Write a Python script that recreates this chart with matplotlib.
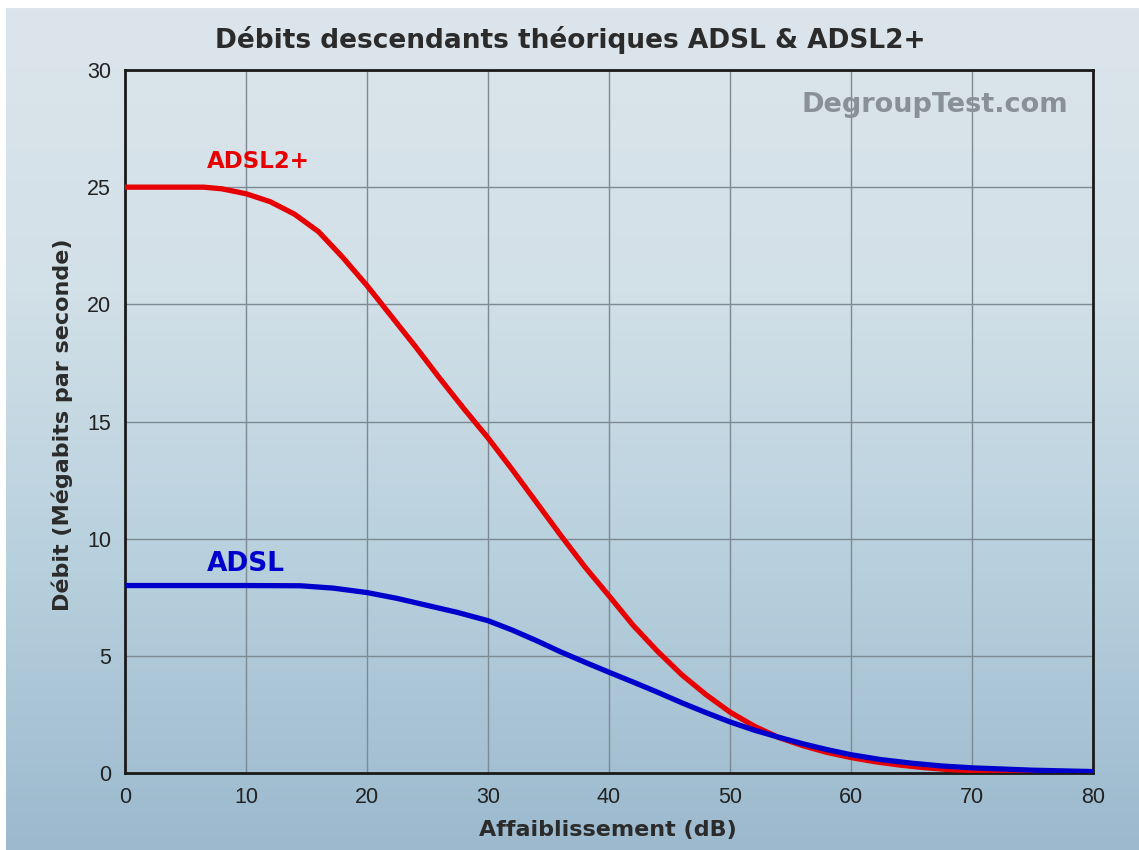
"""
Débits ADSL / ADSL2+ en fonction de l'affaiblissement
"""
import matplotlib
matplotlib.use('Agg')

import matplotlib.pyplot as plt
import numpy as np
from matplotlib.colors import LinearSegmentedColormap

# ========== données ==========
adsl2_x = [0, 4, 6.5, 8, 10, 12, 14, 16, 18, 20, 22, 24, 26, 28, 30, 32, 34, 36, 38, 40,
           42, 44, 46, 48, 50, 52, 54, 56, 58, 60, 62, 64, 66, 68, 70, 72, 76, 80]
adsl2_y = [25, 25, 25, 24.93, 24.72, 24.38, 23.85, 23.1, 22.0, 20.8, 19.5, 18.2, 16.85, 15.55,
           14.3, 12.95, 11.55, 10.15, 8.8, 7.56, 6.3, 5.2, 4.2, 3.35, 2.6, 2.0, 1.52, 1.17,
           0.88, 0.66, 0.48, 0.34, 0.23, 0.15, 0.1, 0.06, 0.02, 0.0]

adsl_x = [0, 10, 14.5, 17.2, 20, 22.5, 25, 27.5, 30, 32, 34, 36, 38, 40, 42, 44, 46, 48,
          50, 52, 54, 56, 58, 60, 62.5, 65, 67.5, 70, 75, 80]
adsl_y = [8, 8, 7.99, 7.89, 7.7, 7.45, 7.15, 6.85, 6.5, 6.1, 5.65, 5.17, 4.73, 4.3, 3.88, 3.45,
          3.0, 2.58, 2.18, 1.83, 1.53, 1.25, 1.0, 0.78, 0.57, 0.42, 0.3, 0.22, 0.12, 0.06]

x_ticks = [0, 10, 20, 30, 40, 50, 60, 70, 80]
y_ticks = [0, 5, 10, 15, 20, 25, 30]

tick_font = ['Liberation Sans', 'DejaVu Sans']
bold_font = ['DejaVu Sans']

fig = plt.figure(figsize=(11.39, 8.5), dpi=100, facecolor='white')

# fond dégradé
bg = fig.add_axes([6 / 1139, 0, 1 - 6 / 1139, 1 - 8 / 850])
cmap = LinearSegmentedColormap.from_list('bg', ['#dce5eb', '#d2e0e8', '#b7d0dd', '#9cb9ce'])
grad = np.linspace(0, 1, 256).reshape(-1, 1)
bg.imshow(grad, aspect='auto', cmap=cmap, extent=[0, 1, 0, 1])
bg.axis('off')

ax = fig.add_axes([125 / 1139, 1 - 773 / 850, (1093 - 125) / 1139, (773 - 70) / 850])
ax.set_facecolor('none')

ax.plot(adsl2_x, adsl2_y, color='#e60000', lw=3.8, solid_capstyle='butt',
        solid_joinstyle='round', zorder=3)
ax.plot(adsl_x, adsl_y, color='#0000cc', lw=3.8, solid_capstyle='butt',
        solid_joinstyle='round', zorder=4)

ax.set_xlim(0, 80)
ax.set_ylim(0, 30)
ax.set_xticks(x_ticks)
ax.set_yticks(y_ticks)
ax.set_xticklabels([str(v) for v in x_ticks], family=tick_font, fontsize=15.5, color='#222222')
ax.set_yticklabels([str(v) for v in y_ticks], family=tick_font, fontsize=15.5, color='#222222')
ax.tick_params(length=0, pad=10)
ax.grid(True, color='#7d8a93', lw=1)
ax.set_axisbelow(True)
for sp in ax.spines.values():
    sp.set_color('#1a1a1a')
    sp.set_linewidth(2)

ax.text(6.8, 26.1, 'ADSL2+', color='#e60000', fontsize=16.5, fontweight='bold',
        family=bold_font, va='center', ha='left')
ax.text(6.8, 8.9, 'ADSL', color='#0000cc', fontsize=19, fontweight='bold',
        family=bold_font, va='center', ha='left')
ax.text(0.974, 0.95, 'DegroupTest.com', transform=ax.transAxes, color='#8a9196',
        fontsize=19.5, fontweight='bold', family=bold_font, ha='right', va='center')

fig.text(570 / 1139, 1 - 40 / 850, 'Débits descendants théoriques ADSL & ADSL2+',
         fontsize=19, fontweight='bold', family=bold_font, color='#2b2b2b',
         ha='center', va='center')
fig.text(608 / 1139, 1 - 830 / 850, 'Affaiblissement (dB)', fontsize=16,
         fontweight='bold', family=bold_font, color='#2b2b2b', ha='center', va='center')
fig.text(62 / 1139, 1 - 425 / 850, 'Débit (Mégabits par seconde)', fontsize=16,
         fontweight='bold', family=bold_font, color='#2b2b2b', ha='center', va='center',
         rotation=90)

plt.savefig('out.png', dpi=100)
plt.close()
